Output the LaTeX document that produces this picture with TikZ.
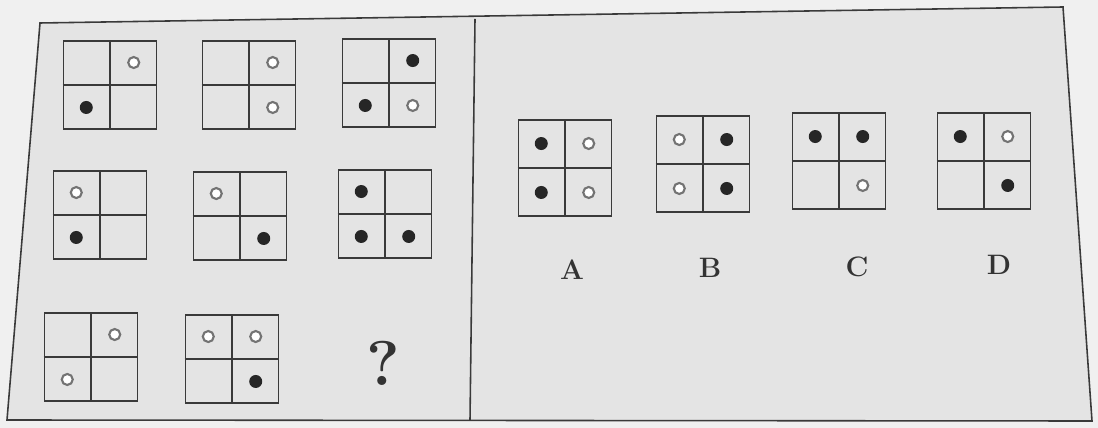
\documentclass[tikz,border=0pt]{standalone}
\usepackage{tikz}
\usetikzlibrary{calc}
\definecolor{paper}{HTML}{E4E4E4}
\definecolor{margin}{HTML}{F0F0F0}
\definecolor{inkgray}{HTML}{3A3A3A}

% one 2x2 box: name, style, position, list of dots
\newcommand{\quadbox}[4]{%
  \node (#1) [#2] at (#3) {};
  \draw [gridline] (#1.north) -- (#1.south) (#1.west) -- (#1.east);
  \coordinate (#1tl) at ($(#1.center)!0.5!(#1.north west)$);
  \coordinate (#1tr) at ($(#1.center)!0.5!(#1.north east)$);
  \coordinate (#1bl) at ($(#1.center)!0.5!(#1.south west)$);
  \coordinate (#1br) at ($(#1.center)!0.5!(#1.south east)$);
  \foreach \q/\s in {#4} \node (#1dot\q) [\s] at (#1\q) {};
}

\begin{document}
\begin{tikzpicture}[
        x=0.02cm, y=-0.02cm,
        gridline/.style = {draw=inkgray, line width=0.9pt},
        cellbox/.style = {draw=inkgray, rectangle, line width=1.1pt, minimum width=1.86cm, minimum height=1.76cm, inner sep=0pt},
        optbox/.style = {cellbox, minimum height=1.92cm},
        fdot/.style = {circle, fill=black!85, minimum size=0.26cm, inner sep=0pt},
        odot/.style = {circle, draw=black!55, fill=white, line width=1.2pt, minimum size=0.22cm, inner sep=0pt},
        letter/.style = {font=\fontsize{16}{16}\selectfont\bfseries, text=black!80}
    ]

        % paper and frame
        \fill [margin] (0,0) rectangle (1098,428);
        \useasboundingbox (0,0) rectangle (1098,428);
        \fill [paper] (40,23) -- (1063,7) -- (1092,421) -- (7,420) -- cycle;
        \draw [gridline] (40,23) -- (1063,7) -- (1092,421) -- (7,420) -- cycle;
        \draw [gridline] (475,19) -- (470,420);

        % question matrix
        \quadbox{b1}{cellbox}{110,85}{tr/odot, bl/fdot}
        \quadbox{b2}{cellbox}{249,85}{tr/odot, br/odot}
        \quadbox{b3}{cellbox}{389,83}{tr/fdot, bl/fdot, br/odot}
        \quadbox{b4}{cellbox}{100,215}{tl/odot, bl/fdot}
        \quadbox{b5}{cellbox}{240,216}{tl/odot, br/fdot}
        \quadbox{b6}{cellbox}{385,214}{tl/fdot, bl/fdot, br/fdot}
        \quadbox{b7}{cellbox}{91,357}{tr/odot, bl/odot}
        \quadbox{b8}{cellbox}{232,359}{tl/odot, tr/odot, br/fdot}
        \node (ask) [font=\fontsize{36}{36}\selectfont\bfseries, text=black!80] at (383,363) {?};

        % options
        \quadbox{optA}{optbox}{565,168}{tl/fdot, tr/odot, bl/fdot, br/odot}
        \quadbox{optB}{optbox}{703,164}{tl/odot, tr/fdot, bl/odot, br/fdot}
        \quadbox{optC}{optbox}{839,161}{tl/fdot, tr/fdot, br/odot}
        \quadbox{optD}{optbox}{984,161}{tl/fdot, tr/odot, br/fdot}

        % labels
        \node (labA) [letter] at (572,270) {A};
        \node (labB) [letter] at (710,268) {B};
        \node (labC) [letter] at (857,267) {C};
        \node (labD) [letter] at (999,265) {D};

    \end{tikzpicture}
\end{document}
